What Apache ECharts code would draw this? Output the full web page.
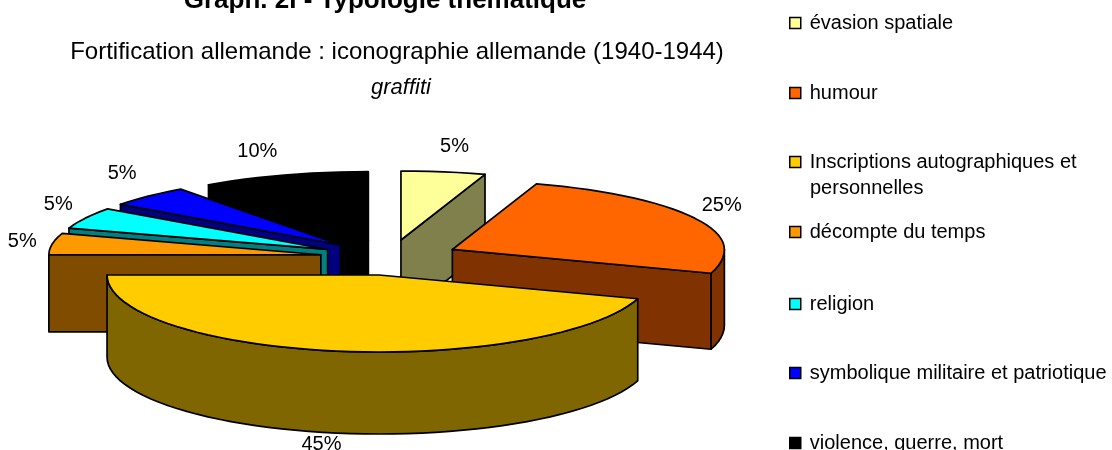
<!DOCTYPE html>
<html>
<head>
<meta charset="utf-8">
<style>html,body{margin:0;padding:0;background:#fff}#c{width:1112px;height:450px}</style>
<script src="https://cdn.jsdelivr.net/npm/echarts@6/dist/echarts.min.js"></script>
</head>
<body>
<div id="c"></div>
<script>
const categories = ['évasion spatiale','humour','Inscriptions autographiques et personnelles','décompte du temps','religion','symbolique militaire et patriotique','violence, guerre, mort'];
const values = [5,25,45,5,5,5,10];
const topColors = ['#FFFF99','#FF6600','#FFCC00','#FF9900','#00FFFF','#0000FF','#000000'];
const sideColors = ['#80804D','#803300','#806600','#804D00','#008080','#000080','#000000'];
const titleTexts = ['Graph. 2I - Typologie thématique','Fortification allemande : iconographie allemande (1940-1944)','graffiti'];

// paint order of the exploded wedges, back to front
const drawOrder = [6,5,4,3,0,1,2];
const pie = {cx:390, cy:257.5, rx:272, ryBack:69, ryFront:77, explodeX:70, explodeY:17.7, depth:76, depthGrow:0.24};
const labelOffsets = [[11,-25],[27,-13],[-15,11],[-30,-2],[-27,-14],[-26,-23],[-27,-24]];
const legendTops = [8,78,147,217,289,358,428];
const FONT = '"Liberation Sans", Arial, sans-serif';

const total = values.reduce((a,b)=>a+b,0);
const rad = d => d*Math.PI/180;
function angles(i){
  let s = 0;
  for(let k=0;k<i;k++) s += values[k];
  return [s/total*360,(s+values[i])/total*360];
}
function rimPoint(c,deg){
  const cos = Math.cos(rad(deg));
  return [c[0]+pie.rx*Math.sin(rad(deg)), c[1]-(cos>0?pie.ryBack:pie.ryFront)*cos];
}
function arc(c,a,b,dy){
  const pts=[]; const n=Math.max(2,Math.ceil((b-a)/3));
  for(let k=0;k<=n;k++){const p=rimPoint(c,a+(b-a)*k/n);pts.push([p[0],p[1]+(dy||0)]);}
  return pts;
}
function makeRender(i){
  return function(params,api){
    const [a,b]=angles(i);
    const mid=rad((a+b)/2);
    const c=[pie.cx+pie.explodeX*Math.sin(mid),pie.cy-pie.explodeY*Math.cos(mid)];
    const depth=pie.depth+Math.max(0,(c[1]-250))*pie.depthGrow;
    const edge={stroke:'#000',lineWidth:1.7,lineJoin:'round'};
    const side=Object.assign({fill:sideColors[i]},edge);
    const top=Object.assign({fill:topColors[i]},edge);
    const kids=[];
    const radial=deg=>{
      const p=rimPoint(c,deg);
      kids.push({type:'polygon',shape:{points:[c,p,[p[0],p[1]+depth],[c[0],c[1]+depth]]},style:side,silent:true});
    };
    if(Math.sin(rad(a))<-1e-6) radial(a);
    if(Math.sin(rad(b))>1e-6) radial(b);
    const ra=Math.max(a,90), rb=Math.min(b,270);
    if(rb>ra){
      kids.push({type:'polygon',shape:{points:arc(c,ra,rb,0).concat(arc(c,ra,rb,depth).reverse())},style:side,silent:true});
    }
    kids.push({type:'polygon',shape:{points:[c].concat(arc(c,a,b,0))},style:top,silent:true});
    const rm=rimPoint(c,(a+b)/2);
    const isFront=(a+b)/2>90&&(a+b)/2<270;
    kids.push({type:'text',silent:true,style:{
      text:api.value(0)+'%',
      x:rm[0]+labelOffsets[i][0],
      y:rm[1]+(isFront?depth:0)+labelOffsets[i][1],
      align:'center',verticalAlign:'middle',fill:'#000',font:'20px '+FONT}});
    return {type:'group',children:kids};
  };
}

const chart = echarts.init(document.getElementById('c'));
chart.setOption({
  animation:false,
  backgroundColor:'#fff',
  title:[
    {text:titleTexts[0],left:380,top:-17,textAlign:'center',textStyle:{fontFamily:FONT,fontSize:26,fontWeight:'bold',color:'#000'}},
    {text:titleTexts[1],left:392,top:35,textAlign:'center',textStyle:{fontFamily:FONT,fontSize:24,fontWeight:'normal',color:'#000'}},
    {text:titleTexts[2],left:396,top:72,textAlign:'center',textStyle:{fontFamily:FONT,fontSize:22,fontStyle:'italic',fontWeight:'normal',color:'#000'}}
  ],
  legend:categories.map((name,i)=>({
    data:[name],
    orient:'vertical',
    left:784,top:legendTops[i],
    icon:'rect',itemWidth:11,itemHeight:11,itemGap:0,
    selectedMode:false,
    itemStyle:{borderColor:'#000',borderWidth:1.5},
    formatter:n=>n.replace(' personnelles',''),
    textStyle:{fontFamily:FONT,fontSize:20,color:'#000',padding:[0,0,0,4]}
  })),
  graphic:[{type:'text',left:810,top:178,style:{text:'personnelles',font:'20px '+FONT,fill:'#000'}}],
  series:drawOrder.map((i,z)=>({
    type:'custom',
    name:categories[i],
    coordinateSystem:'none',
    z:z+2,
    itemStyle:{color:topColors[i]},
    data:[[values[i]]],
    renderItem:makeRender(i)
  }))
});
</script>
</body>
</html>
